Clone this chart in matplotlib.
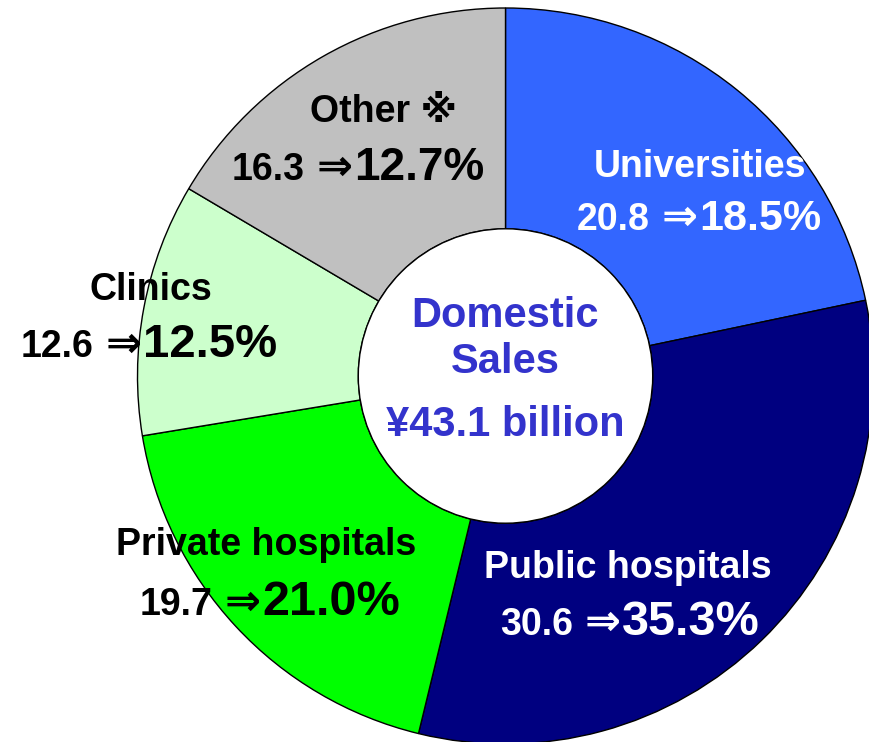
import matplotlib
matplotlib.use("Agg")
import matplotlib.pyplot as plt

# Segments, clockwise from 12 o'clock
segments = ['Universities', 'Public hospitals', 'Private hospitals', 'Clinics', 'Other \u203b']
prev_share = ['20.8', '30.6', '19.7', '12.6', '16.3']
curr_share = ['18.5', '35.3', '21.0', '12.5', '12.7']
# angular size of each wedge as drawn in the picture (%)
wedge_pct = [21.7, 32.1, 18.6, 11.1, 16.5]
center_lines = ['Domestic', 'Sales', '\u00a543.1 billion']

colors = ['#3366FF', '#000080', '#00FF00', '#CCFFCC', '#C0C0C0']
text_colors = ['white', 'white', 'black', 'black', 'black']

FONT = ['Liberation Sans', 'DejaVu Sans', 'Noto Sans CJK JP']

W, H = 870, 742
fig = plt.figure(figsize=(W / 100, H / 100), dpi=100)
ax = fig.add_axes([0, 0, 1, 1])

# work in pixel units, y measured upward
cx, cy = 505.5, H - 376
R = 368
hole = 0.40

ax.pie(wedge_pct, colors=colors, startangle=90, counterclock=False,
       center=(cx, cy), radius=R,
       wedgeprops=dict(edgecolor='black', linewidth=1.0, width=R * (1 - hole)))
ax.add_patch(plt.Circle((cx, cy), R * hole, facecolor='white', edgecolor='black',
                        linewidth=1.0, zorder=3))

ax.set_xlim(0, W)
ax.set_ylim(0, H)
ax.set_aspect('equal')
ax.axis('off')

# label layout: (name x, name baseline, split x, value baseline) in pixels from top-left
label_pos = [
    (700, 177, 699, 230),
    (384, 122, 354, 180),
    (151, 300, 143, 357),
    (266, 555, 262, 615),
    (628, 578, 622, 635),
]
pct_size = [31, 33, 34, 35, 35]
label_order = [0, 4, 3, 2, 1]  # label_pos order -> segment index

renderer = fig.canvas.get_renderer()
for (nx_, ny, sx, vy), idx, psz in zip(label_pos, label_order, pct_size):
    c = text_colors[idx]
    ax.text(nx_, H - ny, segments[idx], ha='center', va='baseline', fontsize=27,
            fontweight='bold', color=c, family=FONT, zorder=5)
    arrow = ax.text(sx - 1, H - vy, '\u21d2', ha='right', va='baseline',
                    fontsize=31, fontweight='bold', color=c, family=['DejaVu Sans'], zorder=5)
    aw = arrow.get_window_extent(renderer).width
    ax.text(sx - 1 - aw - 12, H - vy, prev_share[idx], ha='right', va='baseline',
            fontsize=27, fontweight='bold', color=c, family=FONT, zorder=5)
    ax.text(sx, H - vy, curr_share[idx] + '%', ha='left', va='baseline',
            fontsize=psz, fontweight='bold', color=c, family=FONT, zorder=5)

# centre caption
for line, base in zip(center_lines, [327, 373, 436]):
    ax.text(cx, H - base, line, ha='center', va='baseline', fontsize=30,
            fontweight='bold', color='#3333CC', family=FONT, zorder=5)

fig.savefig('out.png', dpi=100)
